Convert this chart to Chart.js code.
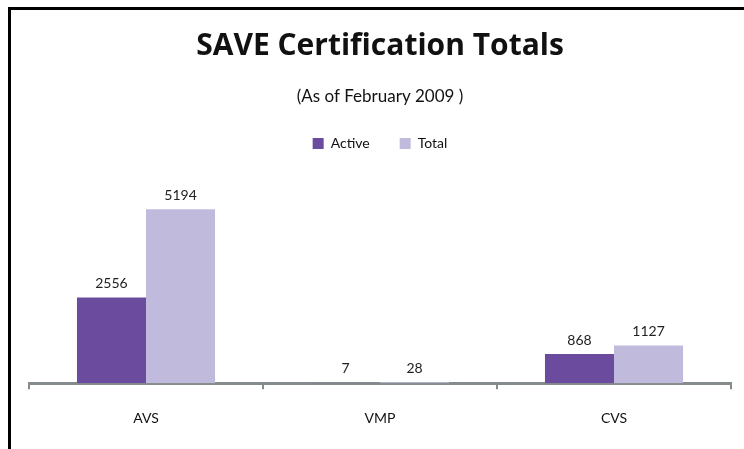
<!DOCTYPE html>
<html lang="en">
<head>
  <meta charset="UTF-8" />
  <title>SAVE Certification Totals</title>
  <script src="https://cdn.jsdelivr.net/npm/chart.js"></script>
  <style>
    html, body {
      margin: 0;
      padding: 0;
      background: #fff;
    }

    #frame {
      position: absolute;
      left: 8px;
      top: 7px;
      right: 0;
      bottom: 0;
      border-left: 3px solid #000;
      border-top: 3px solid #000;
    }

    #wrap {
      position: absolute;
      left: 0;
      top: 0;
      width: 744px;
      height: 449px;
    }
  </style>
</head>
<body>
  <div id="frame"></div>
  <div id="wrap">
    <canvas id="certChart"></canvas>
  </div>

  <script>
    const programs = ['AVS', 'VMP', 'CVS'];
    const activeCounts = [2556, 7, 868];
    const totalCounts = [5194, 28, 1127];

    const activeColor = '#6a4b9d';
    const totalColor = '#c0bbdc';
    const axisColor = '#868b8e';

    // values printed above each bar
    const barValues = {
      id: 'barValues',
      afterDatasetsDraw(chart) {
        const ctx = chart.ctx;
        ctx.save();
        ctx.font = '14px Lato';
        ctx.fillStyle = '#222';
        ctx.textAlign = 'center';
        ctx.textBaseline = 'bottom';
        chart.data.datasets.forEach((ds, i) => {
          chart.getDatasetMeta(i).data.forEach((bar, j) => {
            ctx.fillText(String(ds.data[j]), bar.x, bar.y - 7);
          });
        });
        ctx.restore();
      }
    };

    const ctx = document.getElementById('certChart').getContext('2d');
    const certChart = new Chart(ctx, {
      type: 'bar',
      data: {
        labels: programs,
        datasets: [
          { label: 'Active', data: activeCounts, backgroundColor: activeColor },
          { label: 'Total', data: totalCounts, backgroundColor: totalColor }
        ]
      },
      options: {
        responsive: true,
        maintainAspectRatio: false,
        animation: false,
        layout: {
          padding: { left: 29, right: 13, top: 0, bottom: 1 }
        },
        datasets: {
          bar: { barPercentage: 1.0, categoryPercentage: 0.59 }
        },
        plugins: {
          title: {
            display: true,
            text: 'SAVE Certification Totals',
            color: '#111',
            font: { family: 'Open Sans', size: 30, weight: 'bold', lineHeight: 1.2 },
            padding: { top: 28, bottom: 22 }
          },
          subtitle: {
            display: true,
            text: '(As of February 2009 )',
            color: '#111',
            font: { family: 'Lato', size: 17, lineHeight: 1.2 },
            padding: { top: 0, bottom: 0 }
          },
          legend: {
            display: true,
            labels: {
              color: '#111',
              font: { family: 'Lato', size: 14 },
              boxWidth: 11,
              boxHeight: 11,
              padding: 30
            }
          },
          tooltip: { enabled: false }
        },
        scales: {
          x: {
            offset: true,
            grid: {
              display: true,
              offset: true,
              drawOnChartArea: false,
              drawTicks: true,
              tickLength: 6,
              color: axisColor,
              lineWidth: 2
            },
            border: { display: true, color: axisColor, width: 3 },
            ticks: {
              color: '#111',
              font: { family: 'Lato', size: 14 },
              padding: 21
            }
          },
          y: {
            display: false,
            min: 0,
            max: 6650
          }
        }
      },
      plugins: [barValues]
    });
  </script>
</body>
</html>
